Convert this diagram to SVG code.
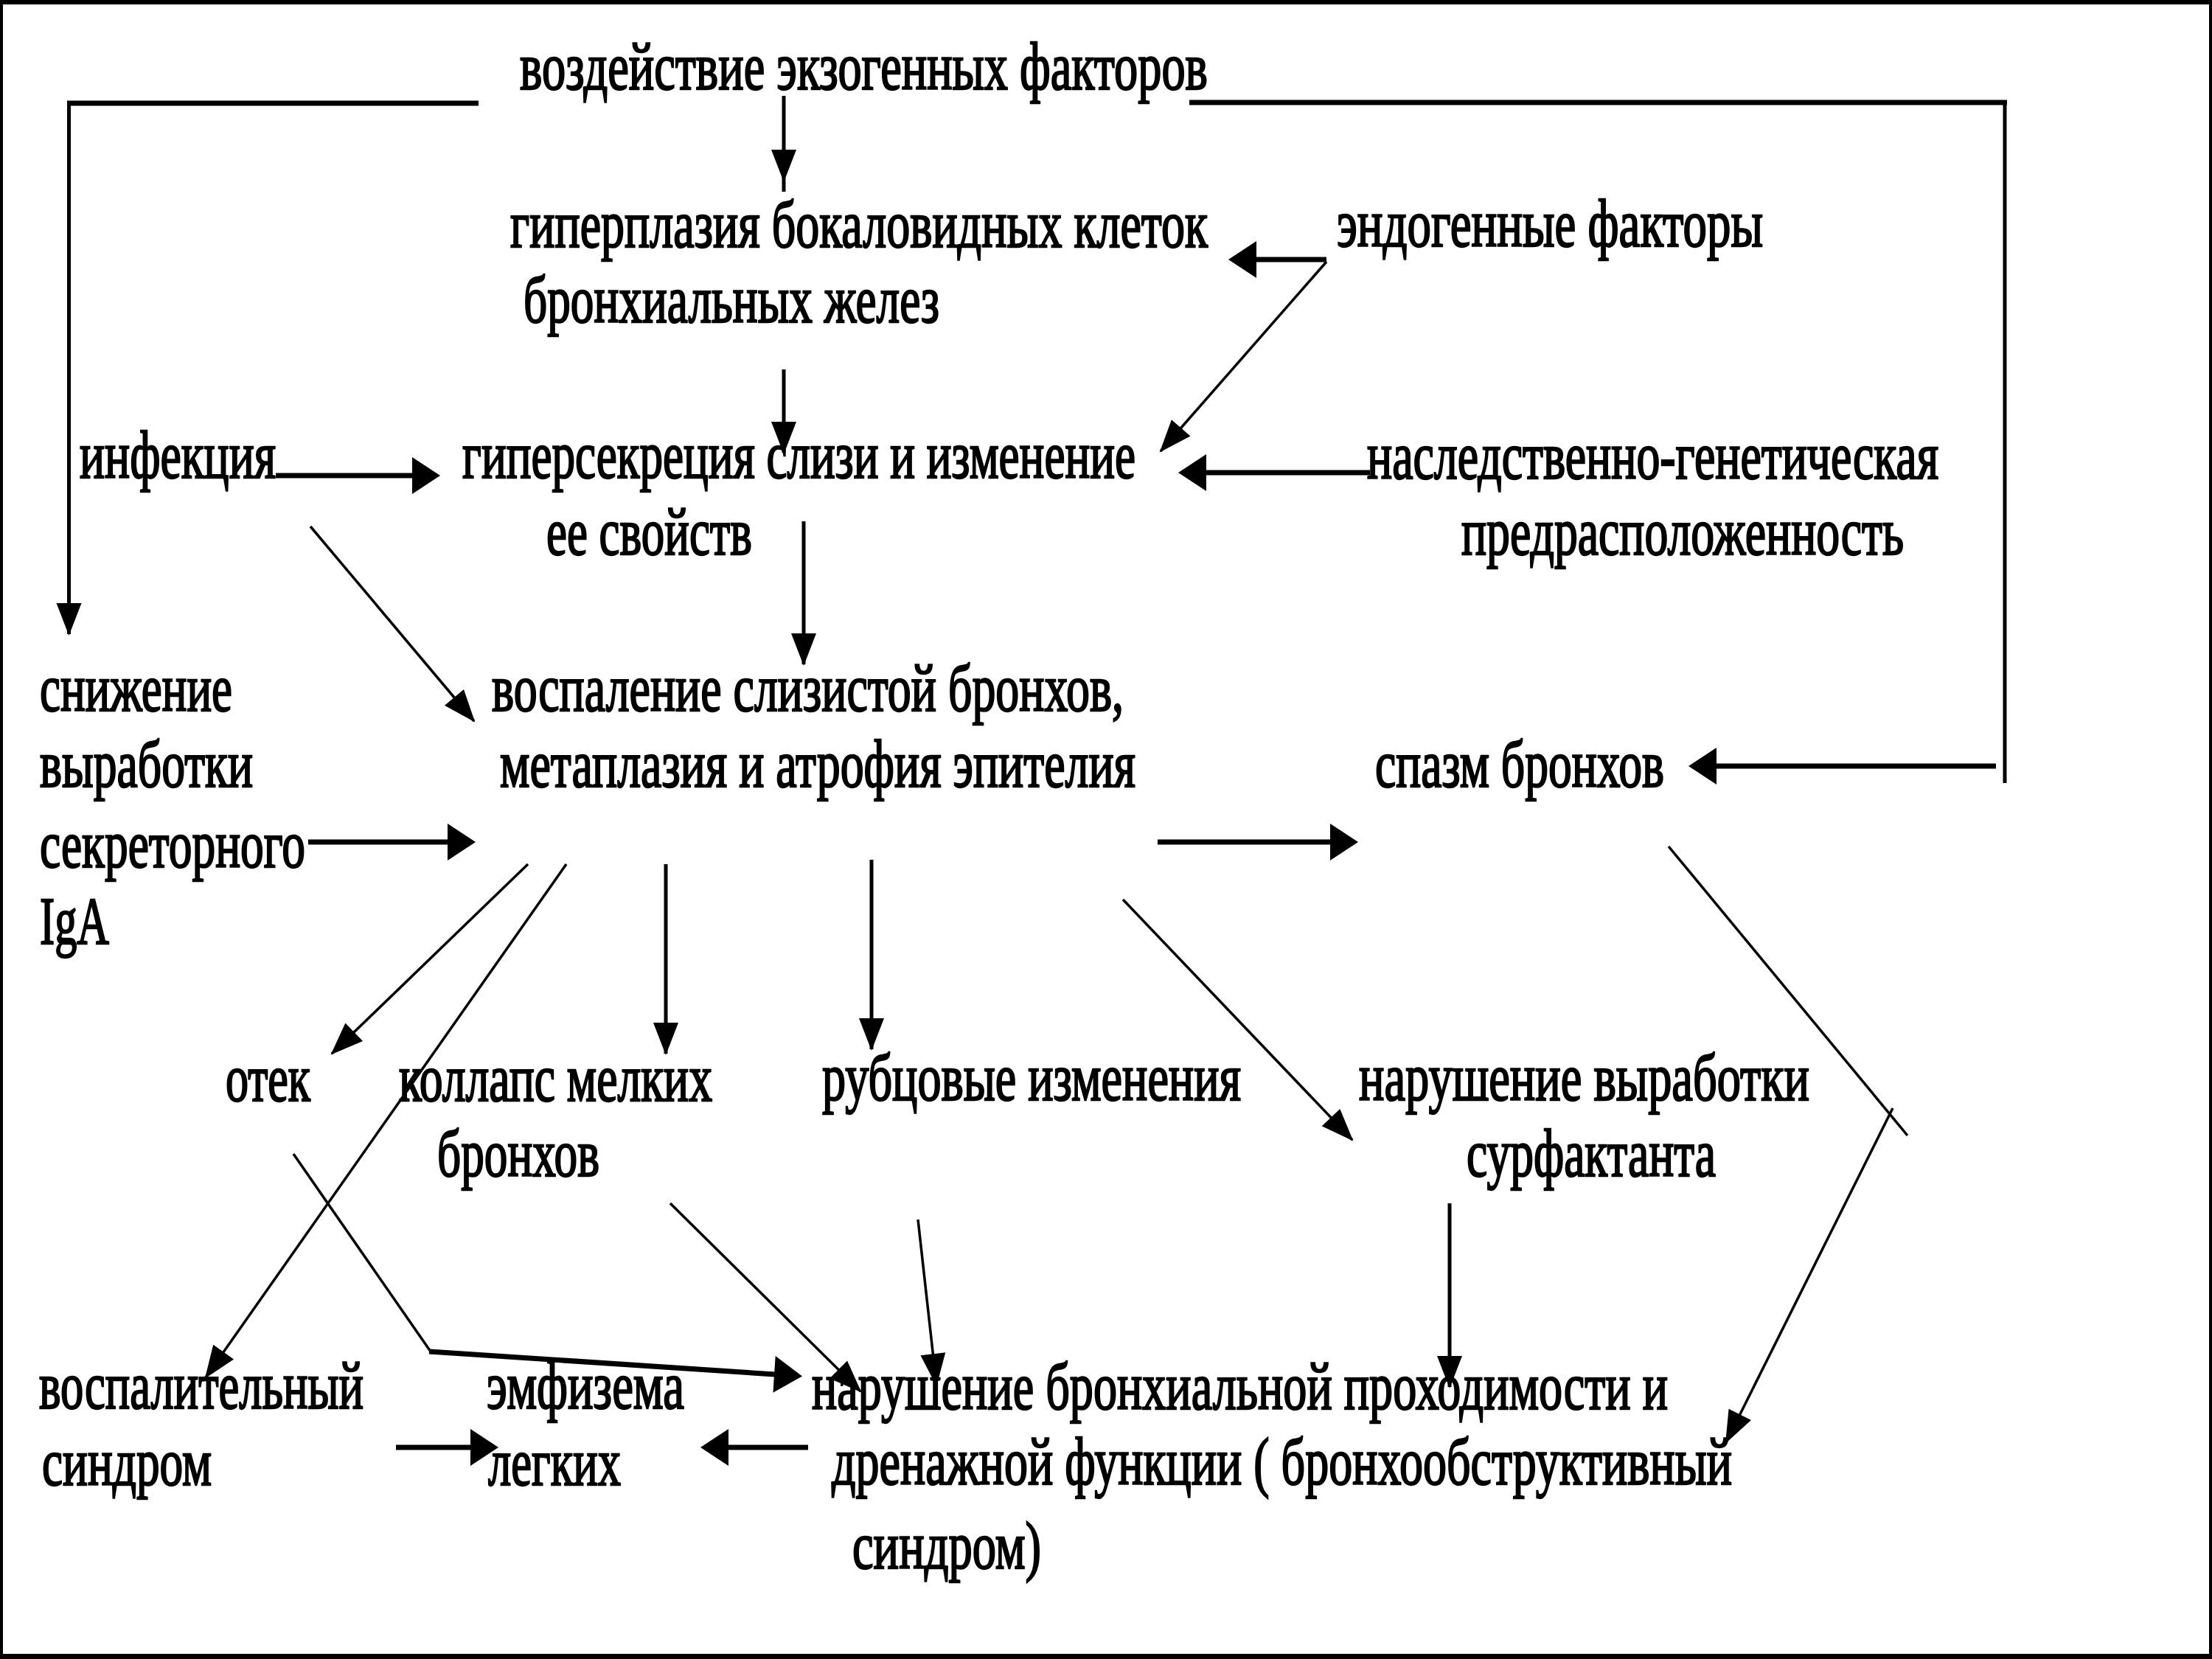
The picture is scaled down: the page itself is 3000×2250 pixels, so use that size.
<svg xmlns="http://www.w3.org/2000/svg" width="3000" height="2250" viewBox="0 0 3000 2250">
<defs>
<style>
text{font-family:"Liberation Serif","Times New Roman",serif;font-size:92px;fill:#000;stroke:#000;stroke-width:2.4}
.thick{stroke:#000;stroke-width:7;fill:none}
.mid{stroke:#000;stroke-width:5;fill:none}
.thin{stroke:#000;stroke-width:3.5;fill:none}
.ab{marker-end:url(#big)}
.as{marker-end:url(#small)}
</style>
<marker id="big" markerUnits="userSpaceOnUse" viewBox="-40 -30 50 60" markerWidth="50" markerHeight="60" refX="0" refY="0" orient="auto" overflow="visible">
<path d="M6,0 L-32,-25 L-32,25 Z" fill="#000"/>
</marker>
<marker id="small" markerUnits="userSpaceOnUse" viewBox="-45 -20 50 40" markerWidth="50" markerHeight="40" refX="0" refY="0" orient="auto" overflow="visible">
<path d="M2,0 L-42,-17 L-42,17 Z" fill="#000"/>
</marker>
</defs>
<rect x="0" y="0" width="3000" height="2250" fill="#fff"/>
<g id="frame" fill="#000">
<rect x="0" y="0" width="3000" height="6"/>
<rect x="0" y="0" width="4" height="2250"/>
<rect x="2996" y="0" width="4" height="2250"/>
<rect x="0" y="2243" width="3000" height="7"/>
</g>
<g id="connectors">
<line class="thick" x1="649" y1="140" x2="91" y2="140"/>
<line class="mid as" x1="93.5" y1="137" x2="93.5" y2="860"/>
<line class="thick" x1="1613" y1="139" x2="2722" y2="139"/>
<line class="mid" x1="2719" y1="136" x2="2719" y2="1062"/>
<line class="thick ab" x1="2707" y1="1039" x2="2296" y2="1039"/>
<line class="mid as" x1="1063" y1="130" x2="1063" y2="245"/>
<line class="mid" x1="1063" y1="245" x2="1063" y2="260"/>
<line class="mid as" x1="1063" y1="501" x2="1063" y2="614"/>
<line class="thick ab" x1="1799" y1="352" x2="1672" y2="352"/>
<line class="thin as" x1="1799" y1="355" x2="1574" y2="612"/>
<line class="thick ab" x1="1858" y1="641" x2="1604" y2="641"/>
<line class="thick ab" x1="374" y1="645" x2="591" y2="645"/>
<line class="thin as" x1="421" y1="714" x2="643" y2="978"/>
<line class="mid as" x1="1090" y1="707" x2="1090" y2="901"/>
<line class="thick ab" x1="418" y1="1142" x2="639" y2="1142"/>
<line class="thick ab" x1="1570" y1="1142" x2="1836" y2="1142"/>
<line class="thin as" x1="716" y1="1172" x2="450" y2="1429"/>
<line class="thin as" x1="768" y1="1172" x2="279" y2="1868"/>
<line class="mid as" x1="903" y1="1172" x2="903" y2="1429"/>
<line class="mid as" x1="1182" y1="1166" x2="1182" y2="1423"/>
<line class="thin as" x1="1523" y1="1220" x2="1834" y2="1546"/>
<line class="thin" x1="2263" y1="1148" x2="2587" y2="1540"/>
<line class="thin as" x1="2567" y1="1503" x2="2341" y2="1956"/>
<line class="mid as" x1="1966" y1="1632" x2="1966" y2="1881"/>
<line class="thin as" x1="1245" y1="1654" x2="1270" y2="1878"/>
<line class="thin as" x1="909" y1="1632" x2="1167" y2="1887"/>
<line class="thin" x1="398" y1="1565" x2="584" y2="1833"/>
<line class="thick ab" x1="582" y1="1833" x2="1082" y2="1866"/>
<line class="thick ab" x1="537" y1="1963" x2="670" y2="1963"/>
<line class="thick ab" x1="1096" y1="1963" x2="956" y2="1963"/>
</g>
<g id="n1"><text x="705" y="121" textLength="933" lengthAdjust="spacingAndGlyphs">воздействие экзогенных факторов</text></g>
<g id="n2"><text x="692" y="335" textLength="946" lengthAdjust="spacingAndGlyphs">гиперплазия бокаловидных клеток</text><text x="710" y="437" textLength="564" lengthAdjust="spacingAndGlyphs">бронхиальных желез</text></g>
<g id="n3"><text x="1813" y="334" textLength="578" lengthAdjust="spacingAndGlyphs">эндогенные факторы</text></g>
<g id="n4"><text x="1854" y="649" textLength="775" lengthAdjust="spacingAndGlyphs">наследственно-генетическая</text><text x="1982" y="752" textLength="600" lengthAdjust="spacingAndGlyphs">предрасположенность</text></g>
<g id="n5"><text x="108" y="648" textLength="266" lengthAdjust="spacingAndGlyphs">инфекция</text></g>
<g id="n6"><text x="627" y="648" textLength="913" lengthAdjust="spacingAndGlyphs">гиперсекреция слизи и изменение</text><text x="741" y="752" textLength="279" lengthAdjust="spacingAndGlyphs">ее свойств</text></g>
<g id="n7"><text x="667" y="964" textLength="857" lengthAdjust="spacingAndGlyphs">воспаление слизистой бронхов,</text><text x="678" y="1067" textLength="862" lengthAdjust="spacingAndGlyphs">метаплазия и атрофия эпителия</text></g>
<g id="n8"><text x="54" y="964" textLength="261" lengthAdjust="spacingAndGlyphs">снижение</text><text x="54" y="1067" textLength="289" lengthAdjust="spacingAndGlyphs">выработки</text><text x="54" y="1176" textLength="360" lengthAdjust="spacingAndGlyphs">секреторного</text><text x="54" y="1280" textLength="94" lengthAdjust="spacingAndGlyphs">IgA</text></g>
<g id="n9"><text x="1865" y="1067" textLength="392" lengthAdjust="spacingAndGlyphs">спазм бронхов</text></g>
<g id="n10"><text x="306" y="1493" textLength="115" lengthAdjust="spacingAndGlyphs">отек</text></g>
<g id="n11"><text x="541" y="1493" textLength="425" lengthAdjust="spacingAndGlyphs">коллапс мелких</text><text x="593" y="1595" textLength="220" lengthAdjust="spacingAndGlyphs">бронхов</text></g>
<g id="n12"><text x="1115" y="1492" textLength="568" lengthAdjust="spacingAndGlyphs">рубцовые изменения</text></g>
<g id="n13"><text x="1843" y="1492" textLength="611" lengthAdjust="spacingAndGlyphs">нарушение выработки</text><text x="1989" y="1595" textLength="338" lengthAdjust="spacingAndGlyphs">сурфактанта</text></g>
<g id="n14"><text x="53" y="1910" textLength="440" lengthAdjust="spacingAndGlyphs">воспалительный</text><text x="57" y="2014" textLength="230" lengthAdjust="spacingAndGlyphs">синдром</text></g>
<g id="n15"><text x="660" y="1910" textLength="268" lengthAdjust="spacingAndGlyphs">эмфизема</text><text x="662" y="2014" textLength="180" lengthAdjust="spacingAndGlyphs">легких</text></g>
<g id="n16"><text x="1101" y="1911" textLength="1161" lengthAdjust="spacingAndGlyphs">нарушение бронхиальной проходимости и</text><text x="1128" y="2013" textLength="1221" lengthAdjust="spacingAndGlyphs">дренажной функции ( бронхообструктивный</text><text x="1156" y="2127" textLength="256" lengthAdjust="spacingAndGlyphs">синдром)</text></g>
</svg>
